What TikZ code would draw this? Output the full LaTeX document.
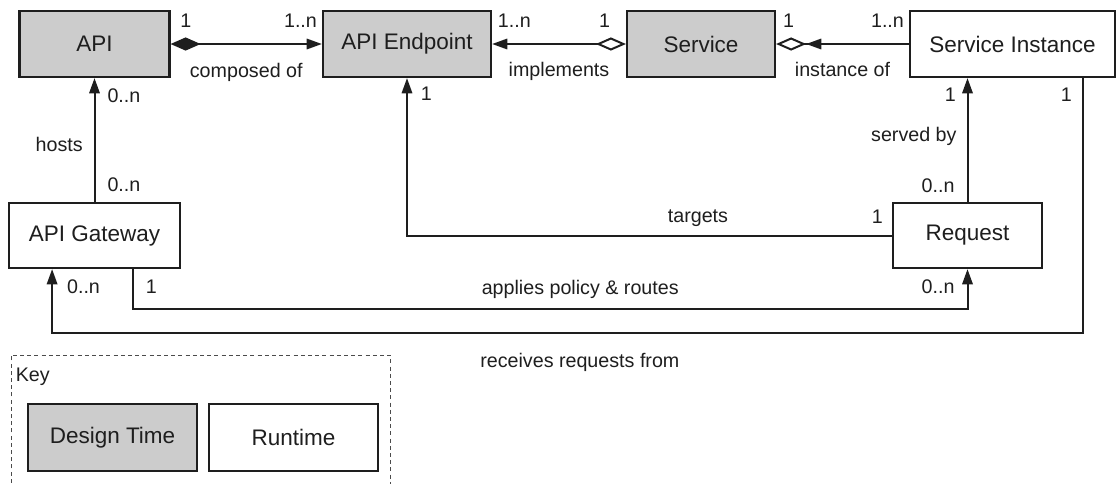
\documentclass[tikz,border=0pt]{standalone}
\usepackage{fontspec}
\setmainfont{Liberation Sans}
\usepackage{xcolor}
\usepackage{tikz}
\usetikzlibrary{arrows.meta,positioning}

\definecolor{boxgrey}{HTML}{CCCCCC}
\definecolor{ink}{HTML}{1E1E1E}

\tikzset{
  entity/.style={draw=ink, line width=0.55mm, minimum height=16.5mm, inner sep=0pt, text=ink, font=\fontsize{16}{19}\selectfont},
  design/.style={entity, fill=boxgrey},
  runtime/.style={entity, fill=white},
  assoc/.style={draw=ink, line width=0.5mm},
  mult/.style={inner sep=0pt, text=ink, font=\fontsize{14}{17}\selectfont},
  keyframe/.style={draw=ink!80, line width=0.25mm, dash pattern=on 1mm off 0.8mm},
  >={Triangle[length=3.8mm,width=2.6mm]}
}

\begin{document}
\begin{tikzpicture}[x=0.25mm, y=-0.25mm]
  \useasboundingbox (0,0) rectangle (1116,483);

  \node[design, minimum width=37.5mm] (api) at (94.5,44) {API};
  \node[design, minimum width=42mm] (endpoint) at (407,44) {API Endpoint};
  \node[design, minimum width=37mm] (service) at (701,44) {Service};
  \node[runtime, minimum width=51.25mm] (instance) at (1012.5,44) {Service Instance};
  \node[runtime, minimum width=42.75mm, minimum height=16.25mm] (gateway) at (94.5,235.5) {API Gateway};
  \node[runtime, minimum width=37.25mm, minimum height=16.25mm] (request) at (967.5,235.5) {Request};

  \coordinate (gwout) at ([xshift=9.6mm]gateway.south);
  \coordinate (gwin) at ([xshift=-10.6mm]gateway.south);
  \coordinate (siout) at ([xshift=17.6mm]instance.south);

  \draw[assoc, {Diamond[length=7.5mm,width=3.3mm]}->] (api) -- (endpoint)
    node[mult, pos=0, above right=4mm and 2.2mm] {1}
    node[mult, pos=1, above left=4mm and 1mm] {1..n}
    node[mult, midway, below=4.5mm] {composed of};

  \draw[assoc, {Diamond[open,length=7.5mm,width=3.3mm]}->] (service) -- (endpoint)
    node[mult, pos=0, above left=4mm and 3.7mm] {1}
    node[mult, pos=1, above right=4mm and 1.2mm] {1..n}
    node[mult, midway, below=4.3mm] {implements};

  \draw[assoc, -{Triangle[length=3.8mm,width=2.6mm] Diamond[open,length=7.5mm,width=3.3mm]}] (instance) -- (service)
    node[mult, pos=0, above left=4mm and 1mm] {1..n}
    node[mult, pos=1, above right=4mm and 1.5mm] {1}
    node[mult, midway, below=4.3mm] {instance of};

  \draw[assoc, ->] (gateway) -- (api)
    node[mult, pos=0, above right=2.2mm and 3mm] {0..n}
    node[mult, pos=1, below right=2.5mm and 3mm] {0..n}
    node[mult, pos=.46, left=2.7mm] {hosts};

  \draw[assoc, ->] (request) -| (endpoint)
    node[mult, pos=0, above left=2.7mm and 2mm] {1}
    node[mult, pos=1, below right=2mm and 3.2mm] {1}
    node[mult, pos=.2, above=2mm] {targets};

  \draw[assoc, ->] (request) -- (request |- instance.south)
    node[mult, pos=0, above left=2mm and 3mm] {0..n}
    node[mult, pos=1, below left=2.2mm and 2.7mm] {1}
    node[mult, pos=.53, left=2.5mm] {served by};

  \draw[assoc, ->] (gwout) -- ++(0,40)
    node[mult, pos=0, below right=2.5mm and 3mm] {1}
    -| (request)
    node[mult, pos=.268, above=2.5mm] {applies policy \& routes}
    node[mult, pos=1, below left=2.5mm and 3mm] {0..n};

  \draw[assoc, ->] (siout) -- ++(0,255)
    node[mult, pos=0, below left=2.2mm and 2.5mm] {1}
    -| (gwin)
    node[mult, pos=.244, below=4.7mm] {receives requests from}
    node[mult, pos=1, below right=2.5mm and 3.5mm] {0..n};

  \draw[keyframe] (11,490) |- (390,355) -- (390,490);
  \node[mult, anchor=north west] (keytitle) at (15.5,368) {Key};
  \node[design, minimum width=42.25mm, minimum height=16.75mm] (keydesign) at (112.5,437.5) {Design Time};
  \node[runtime, minimum width=42.25mm, minimum height=16.75mm] (keyruntime) at (293.5,437.5) {Runtime};
\end{tikzpicture}
\end{document}
